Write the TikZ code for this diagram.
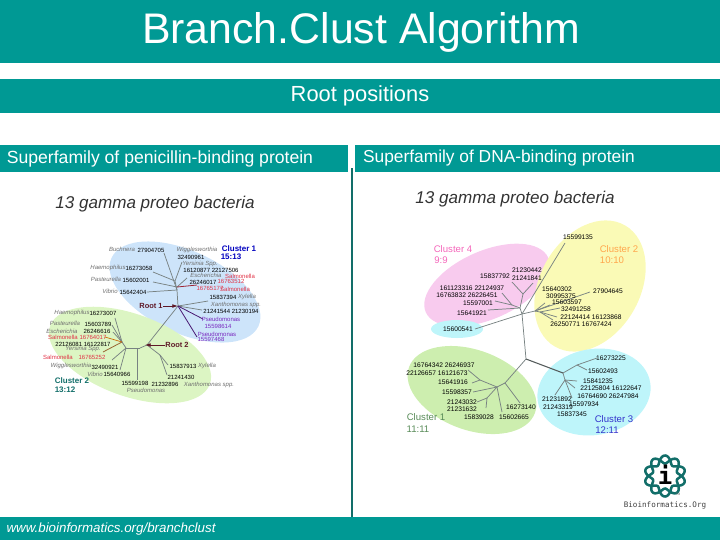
\documentclass[tikz,border=0pt]{standalone}
\usepackage{fontspec}
\setmainfont{Liberation Sans}
\newfontfamily\bclogofont{DejaVu Sans Mono}
\usetikzlibrary{arrows.meta,shapes.geometric}
\definecolor{BcTeal}{RGB}{0,153,148}
\definecolor{BcDarkTeal}{RGB}{18,110,105}
\definecolor{BcGray}{RGB}{110,110,110}
\definecolor{BcRed}{RGB}{225,50,70}
\definecolor{BcPurple}{RGB}{120,40,190}
\definecolor{BcBranch}{RGB}{120,130,130}
\definecolor{BcRoot}{RGB}{95,25,40}
\definecolor{BcBlobBlue}{RGB}{205,228,250}
\definecolor{BcBlobLime}{RGB}{220,245,195}
\definecolor{BcBlobGreen}{RGB}{205,238,175}
\definecolor{BcBlobPink}{RGB}{248,203,238}
\definecolor{BcBlobYellow}{RGB}{250,250,182}
\definecolor{BcBlobCyan}{RGB}{190,245,250}
\newcommand{\bcsize}[1]{\fontsize{#1}{#1}\selectfont}
\tikzset{
  bc/band/.style={fill=BcTeal,draw=none},
  bc/blob/.style={ellipse,draw=none,inner sep=0pt},
  bc/title/.style={text=white,inner sep=0pt},
  bc/num/.style={text=black,inner sep=0pt,font=\bcsize{4.5}},
  bc/numb/.style={text=black,inner sep=0pt,font=\bcsize{5}},
  bc/species/.style={text=BcGray,inner sep=0pt,font=\bcsize{4.5}\itshape},
  bc/red/.style={text=BcRed,inner sep=0pt,font=\bcsize{4.5}},
  bc/purple/.style={text=BcPurple,inner sep=0pt,font=\bcsize{4.5}},
  bc/root/.style={text=BcRoot,inner sep=0pt,font=\bcsize{5.6}\bfseries},
  bc/cluster/.style={inner sep=0pt,font=\bcsize{7.2}},
  bc/clusterb/.style={inner sep=0pt,font=\bcsize{6}\bfseries},
  bc/branch/.style={draw=BcBranch,line width=0.55pt},
  bc/dark/.style={draw=BcBranch!70!black,line width=0.8pt},
  bc/rootarrow/.style={-{Latex[length=1.5mm,width=1mm]},draw=BcRoot,line width=0.6pt},
  bc/strand/.style={BcDarkTeal,line width=1.9pt,smooth}
}
\begin{document}
\begin{tikzpicture}[x=0.75pt,y=-0.75pt]
  \useasboundingbox (0,0) rectangle (720,540);
  % bands
  \fill[bc/band] (0,0) rectangle (720,63);
  \fill[bc/band] (0,79) rectangle (720,113);
  \fill[bc/band] (0,145) rectangle (348,172);
  \fill[bc/band] (355,145) rectangle (720,172);
  \fill[bc/band] (0,517) rectangle (720,540);
  \coordinate (divtop) at (352,168);
  \coordinate (divbot) at (352,517);
  \draw[draw=BcDarkTeal,line width=2pt] (divtop) -- (divbot);
  \node[bc/title,font=\bcsize{32.1}] (maintitle) at (361,32) {Branch.Clust Algorithm};
  \node[bc/title,font=\bcsize{16.4}] (subtitle) at (360,96) {Root positions};
  \node[bc/title,font=\bcsize{13.2}] (headleft) at (160,159) {Superfamily of penicillin-binding protein};
  \node[bc/title,font=\bcsize{13}] (headright) at (499,158) {Superfamily of DNA-binding protein};
  \node[inner sep=0pt,font=\bcsize{12.8}\itshape,text=black!80] (subleft) at (155,204) {13 gamma proteo bacteria};
  \node[inner sep=0pt,font=\bcsize{12.8}\itshape,text=black!80] (subright) at (515,199) {13 gamma proteo bacteria};
  \node[bc/title,font=\bcsize{10}\itshape] (weblink) at (111,529) {www.bioinformatics.org/branchclust};

  % clusters
  \foreach \blobname/\px/\py/\rx/\ry/\rot/\col in {
    blobA/185/292/81/41/-25/BcBlobBlue,
    blobB/130/355/85/41/-20/BcBlobLime,
    blobC/487/285/67/34/24/BcBlobPink,
    blobD/457/329/26/9/0/BcBlobCyan,
    blobE/590/286/70/50/60/BcBlobYellow,
    blobF/472/390/67/40/-20/BcBlobGreen,
    blobG/594/392/57/43/10/BcBlobCyan}
    \node[bc/blob,fill=\col,minimum width=1.5*\rx pt,minimum height=1.5*\ry pt,rotate=\rot] (\blobname) at (\px,\py) {};

  % left tree
  \foreach \cname/\px/\py in {
    a1/164/253,a2/182/262,a3/187/278,a4/197/285,a5/153/272,a6/153/282,a7/147/292,
    a8/177/290,a9/175/281,a10/177/287,a11/178/306,a12/208/301,a13/202/310,a14/203/319,a15/197/337,
    b1/147/345,b2/140/348,b3/122/342,b4/115/318,b5/112/325,b6/113/332,b7/103/352,b8/105/337,
    b9/112/360,b10/120/370,b11/137/348,b12/137/380,b13/160/355,b14/168/365,b15/167/375,b16/126/348}
    \coordinate (\cname) at (\px,\py);
  \foreach \from/\to in {a1/a8,a2/a9,a3/a10,a5/a9,a6/a10,a7/a8,a9/a8,a8/a11,a11/a12,a11/a13,a11/b1,b1/b2,
    b2/b16,b16/b3,b3/b4,b5/b3,b6/b3,b9/b16,b10/b16,b11/b12,b1/b13,b13/b14,b13/b15}
    \draw[bc/branch] (\from) -- (\to);
  \draw[draw=BcRed!70!black,line width=0.6pt] (a10) -- (a4);
  \draw[draw=BcPurple!60!black,line width=0.6pt] (a11) -- (a14);
  \draw[draw=BcPurple!60!black,line width=0.6pt] (a11) -- (a15);
  \draw[draw=brown!80!black,line width=0.6pt] (b7) -- (b3);
  \draw[draw=orange!80!black,line width=0.5pt] (b8) -- (b3);

  \foreach \px/\py/\txt [count=\i] in {
    151/250/27904705,191/257/32490961,211/270/16120877 22127506,203/282/26246017,
    139/268/16273058,136/280/15602001,133/292/15642404,223/297/15837394,231/311/21241544 21230194,
    103/313/16273007,98/324/15603789,97/331/26246616,83/344/22126081 16122817,105/367/32490921,
    117/374/15640966,135/383/15599198,165/384/21232896,183/366/15837913,181/377/21241430}
    \node[bc/num] (leftnum\i) at (\px,\py) {\txt};
  \foreach \px/\py/\txt [count=\i] in {
    122/249/Buchnera,197/250/Wigglesworthia,200/264/Yersinia Spp.,206/275/Escherichia,
    108/268/Haemophilus,106/279/Pasteurella,110/291/Vibrio,247/297/Xylella,236/305/Xanthomonas spp.,
    72/313/Haemophilus,65/323/Pasteurella,62/331/Escherichia,83/349/Yersinia Spp.,71/366/Wigglesworthia,
    95/374/Vibrio,209/385/Xanthomonas spp.,146/390/Pseudomonas,207/366/Xylella}
    \node[bc/species] (leftname\i) at (\px,\py) {\txt};
  \foreach \px/\py/\txt [count=\i] in {
    240/276/Salmonella,231/281/16763512,210/288/16765177,235/289/Salmonella,
    63/337/Salmonella,93/337/16764017,58/357/Salmonella,92/357/16765252}
    \node[bc/red] (leftred\i) at (\px,\py) {\txt};
  \foreach \px/\py/\txt [count=\i] in {
    221/319/Pseudomonas,218/326/15598614,217/334/Pseudomonas,211/339/15597468}
    \node[bc/purple] (leftpurple\i) at (\px,\py) {\txt};
  \node[bc/clusterb,text=blue!75!black] (leftclusterA) at (239,249) {Cluster 1};
  \node[bc/clusterb,text=blue!75!black] (leftratioA) at (231,257) {15:13};
  \node[bc/clusterb,text=BcDarkTeal] (leftclusterB) at (72,381) {Cluster 2};
  \node[bc/clusterb,text=BcDarkTeal] (leftratioB) at (65,390) {13:12};
  \node[bc/root] (rootA) at (151,306) {Root 1};
  \node[bc/root] (rootB) at (177,345) {Root 2};
  \coordinate (rootAend) at (178,306);
  \coordinate (rootBend) at (145,345);
  \draw[bc/rootarrow] (rootA) -- (rootAend);
  \draw[bc/rootarrow] (rootB) -- (rootBend);

  % right tree
  \foreach \cname/\px/\py in {
    c0/522/314,c1/565/243,c2/526/359,c3/475/329,c4/520/308,c5/523/294,c6/512/282,c8/512/305,
    c9/502/293,c10/495/301,c11/488/310,c12/535/311,c13/590/292,c14/545/303,c15/540/312,c16/560/308,
    c17/557/317,c18/553/320,c19/563/373,c20/577/365,c21/597/358,c22/587/370,c23/565/380,c24/577/381,
    c25/575/388,c26/572/398,c27/555/395,c28/505/383,c29/497/387,c30/480/380,c31/468/370,c32/472/383,
    c33/473/392,c34/487/398,c35/477/402,c36/486/408,c37/502/412,c38/520/403,c39/550/305,c40/533/283}
    \coordinate (\cname) at (\px,\py);
  \foreach \from/\to in {c0/c1,c0/c2,c3/c0,c0/c4,c4/c5,c5/c6,c5/c40,c4/c8,c8/c9,c10/c8,c11/c4,
    c0/c12,c12/c14,c12/c13,c12/c39,c12/c15,c15/c16,c15/c17,c15/c18,
    c19/c20,c20/c21,c20/c22,c19/c23,c23/c24,c23/c25,c23/c26,c23/c27,
    c2/c28,c28/c29,c29/c30,c30/c31,c30/c32,c29/c33,c29/c34,c34/c35,c34/c36,c29/c37,c28/c38}
    \draw[bc/branch] (\from) -- (\to);
  \draw[bc/dark] (c2) -- (c19);

  \foreach \px/\py/\txt [count=\i] in {
    578/237/15599135,527/270/21230442,527/278/21241841,495/276/15837792,472/288/161123316 22124937,
    467/295/16763832 26226451,478/303/15597001,472/313/15641921,458/329/15600541,557/289/15640302,
    561/296/30995375,567/302/15603597,608/291/27904645,576/309/32491258,591/317/22124414 16123868,
    581/324/26250771 16767424,611/358/16273225,603/371/15602493,598/381/15841235,
    611/388/22125804 16122647,608/396/16764690 26247984,557/399/21231892,558/407/21243319,584/404/15597934,
    572/414/15837345,444/365/16764342 26246937,437/373/22126657 16121673,453/382/15641916,457/392/15598357,
    462/402/21243032,462/409/21231632,479/417/15839028,514/417/15602665,521/407/16273140}
    \node[bc/numb] (rightnum\i) at (\px,\py) {\txt};
  \node[bc/cluster,text=magenta!60!white] (rightclusterD) at (453,249) {Cluster 4};
  \node[bc/cluster,text=magenta!60!white] (rightratioD) at (441,260) {9:9};
  \node[bc/cluster,text=orange!70!white] (rightclusterB) at (619,249) {Cluster 2};
  \node[bc/cluster,text=orange!70!white] (rightratioB) at (612,260) {10:10};
  \node[bc/cluster,text=BcGray!80!green] (rightclusterA) at (426,417) {Cluster 1};
  \node[bc/cluster,text=BcGray!80!green] (rightratioA) at (418,429) {11:11};
  \node[bc/cluster,text=blue!60!gray] (rightclusterC) at (614,419) {Cluster 3};
  \node[bc/cluster,text=blue!60!gray] (rightratioC) at (607,430) {12:11};

  % logo
  \draw[bc/strand] plot[domain=0:360,samples=150,variable=\t]
    ({665+(16.5+4*sin(5*\t))*cos(\t)},{476+(16.5+4*sin(5*\t))*sin(\t)});
  \draw[bc/strand] plot[domain=0:360,samples=150,variable=\t]
    ({665+(16.5-4*sin(5*\t))*cos(\t)},{476+(16.5-4*sin(5*\t))*sin(\t)});
  \node[inner sep=0pt,font=\bclogofont\bcsize{18}\bfseries,text=black] (logoi) at (665,475) {i};
  \node[inner sep=0pt,font=\bcsize{2.5},text=BcGray] (logotm) at (678,494) {TM};
  \node[inner sep=0pt,font=\bclogofont\bcsize{5.7},text=black!75] (logotext) at (665,505) {Bioinformatics.Org};
\end{tikzpicture}
\end{document}
